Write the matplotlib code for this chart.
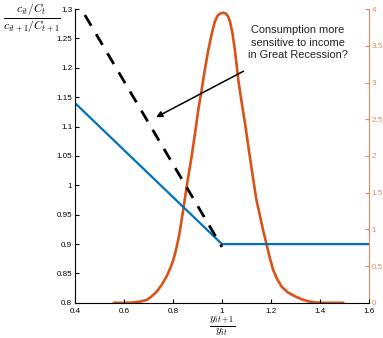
import matplotlib.pyplot as plt

plt.rcParams['font.family'] = ['Liberation Sans', 'DejaVu Sans']
plt.rcParams['mathtext.fontset'] = 'cm'

# consumption ratio lines (left axis)
blue_x = [0.4, 1.0, 1.6]
blue_y = [1.14, 0.9, 0.9]
dash_x = [0.44, 1.0]
dash_y = [1.29, 0.895]

# income growth density (right axis)
dens_x = [0.559, 0.60, 0.64, 0.67, 0.693, 0.71, 0.733, 0.755, 0.774, 0.79,
          0.801, 0.813, 0.824, 0.833, 0.842, 0.850, 0.858, 0.867, 0.876, 0.890,
          0.903, 0.917, 0.930, 0.944, 0.958, 0.971, 0.982, 0.993, 1.005, 1.016,
          1.025, 1.033, 1.043, 1.053, 1.060, 1.067, 1.080, 1.094, 1.104, 1.114,
          1.127, 1.141, 1.155, 1.168, 1.182, 1.195, 1.209, 1.226, 1.244, 1.27,
          1.298, 1.325, 1.352, 1.38, 1.42, 1.495]
dens_y = [0.0, 0.0, 0.005, 0.02, 0.04, 0.08, 0.15, 0.25, 0.36, 0.48,
          0.58, 0.73, 0.90, 1.08, 1.27, 1.45, 1.63, 1.81, 1.99, 2.31,
          2.62, 2.90, 3.17, 3.44, 3.66, 3.83, 3.91, 3.94, 3.95, 3.94,
          3.90, 3.83, 3.67, 3.44, 3.24, 3.03, 2.74, 2.45, 2.22, 1.99,
          1.70, 1.40, 1.19, 0.99, 0.80, 0.62, 0.45, 0.32, 0.22, 0.14,
          0.09, 0.05, 0.02, 0.005, 0.0, 0.0]

xticks = [0.4, 0.6, 0.8, 1.0, 1.2, 1.4, 1.6]
xlabels = ["0.4", "0.6", "0.8", "1", "1.2", "1.4", "1.6"]
lticks = [0.8, 0.85, 0.9, 0.95, 1.0, 1.05, 1.1, 1.15, 1.2, 1.25, 1.3]
llabels = ["0.8", "0.85", "0.9", "0.95", "1", "1.05", "1.1", "1.15", "1.2", "1.25", "1.3"]
rticks = [0, 0.5, 1, 1.5, 2, 2.5, 3, 3.5, 4]
rlabels = ["0", "0.5", "1", "1.5", "2", "2.5", "3", "3.5", "4"]

blue = "#0072BD"
orange = "#D95319"
raxis = "#E8875A"

fig = plt.figure(figsize=(3.83, 3.38), dpi=100)
ax = fig.add_axes([0.196, 0.104, 0.767, 0.869])
ax2 = ax.twinx()
ax.set_zorder(2)
ax.patch.set_visible(False)

ax.plot(blue_x, blue_y, color=blue, lw=1.6)
ax.plot(dash_x, dash_y, color="black", lw=2.0, dashes=(4.5, 3.5))
ax2.plot(dens_x, dens_y, color=orange, lw=1.9)

ax.set_xlim(0.4, 1.6)
ax.set_ylim(0.8, 1.3)
ax2.set_ylim(0, 4)

ax.set_xticks(xticks)
ax.set_xticklabels(xlabels)
ax.set_yticks(lticks)
ax.set_yticklabels(llabels)
ax2.set_yticks(rticks)
ax2.set_yticklabels(rlabels)

for a in (ax, ax2):
    a.spines["top"].set_visible(False)
ax.spines["right"].set_visible(False)
ax2.spines["left"].set_visible(False)
ax2.spines["bottom"].set_visible(False)
ax2.spines["right"].set_color(raxis)
ax.tick_params(direction="in", length=3, labelsize=5.8, width=0.8, pad=2)
ax.tick_params(axis="x", pad=3.5)
ax2.tick_params(direction="in", length=3, labelsize=5.8, colors=raxis, width=0.8, pad=2)

ax.annotate("Consumption more\nsensitive to income\nin Great Recession?",
            xy=(0.731, 1.116), xytext=(1.31, 1.243),
            ha="center", va="center", fontsize=7.9, color="#222222",
            linespacing=1.3,
            arrowprops=dict(arrowstyle="-|>", color="black", lw=1.1,
                            mutation_scale=9, shrinkA=13, shrinkB=0))

fig.text(0.084, 0.945, r"$\frac{c_{it}/C_t}{c_{it+1}/C_{t+1}}$", ha="center", va="center", fontsize=12)
fig.text(0.58, 0.034, r"$\frac{y_{it+1}}{y_{it}}$", ha="center", va="center", fontsize=11.5)

fig.savefig("out.png", dpi=100)
